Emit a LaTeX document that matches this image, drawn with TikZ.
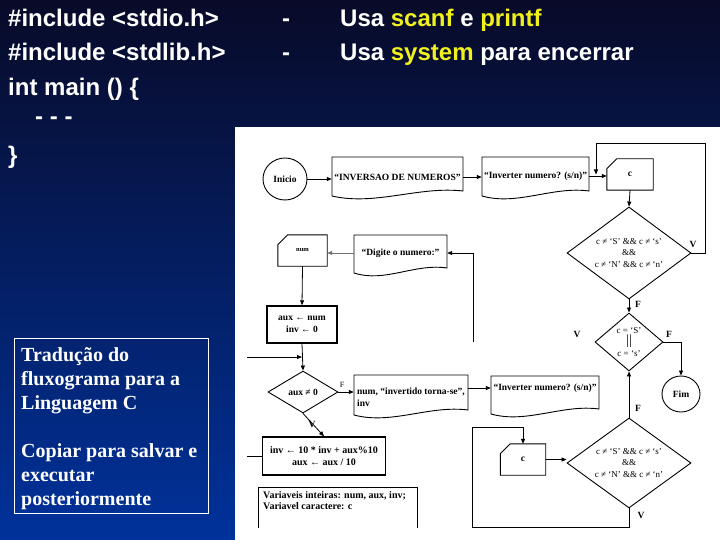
\documentclass[tikz,border=0pt]{standalone}
\usepackage{fontspec}
\setmainfont{Liberation Serif}
\newfontfamily\arialfont{Liberation Sans}
\usetikzlibrary{arrows.meta,calc,shapes.geometric}
\definecolor{yel}{RGB}{240,240,30}
\definecolor{bgtop}{RGB}{8,10,40}
\definecolor{bgbot}{RGB}{0,50,155}

\newcommand\docshape[4]{%
  \draw[shp] ($(#1)+(-#2,-#3)$) -- ($(#1)+(#2,-#3)$) -- ($(#1)+(#2,#4-5)$)
    .. controls ($(#1)+(0.32*#2,#4-10)$) and ($(#1)+(-0.34*#2,#4+10)$) .. ($(#1)+(-#2,#4)$) -- cycle;}
\newcommand\cardshape[1]{%
  \draw[shp] (#1.south west) -- ($(#1.north west)+(0,10)$) -- ($(#1.north west)+(10,0)$) -- (#1.north east) -- (#1.south east) -- cycle;}

\tikzset{
  shp/.style={draw=black, line width=0.9pt},
  arr/.style={draw=black, line width=0.8pt, -{Triangle[length=5pt,width=4pt]}},
  ln/.style={draw=black, line width=0.8pt},
  ftxt/.style={font=\bfseries\fontsize{9.5}{11.5}\selectfont, text=black, inner sep=0pt},
  docnode/.style={ftxt, align=center},
  cardnode/.style={ftxt, minimum height=31pt},
  proc/.style={draw, line width=1.4pt, ftxt, align=center},
  dia/.style={diamond, draw, line width=0.9pt, inner sep=0pt},
  dtxt/.style={font=\fontsize{9}{11.5}\selectfont, align=center, inner sep=0pt},
  term/.style={ellipse, draw, line width=0.9pt, ftxt},
  lbl/.style={font=\bfseries\fontsize{9.5}{10}\selectfont, inner sep=0pt},
  toptxt/.style={font=\arialfont\bfseries\fontsize{24}{29}\selectfont, text=white, anchor=base west, inner sep=0pt},
}

\begin{document}
\begin{tikzpicture}[x=1pt,y=-1pt]
\useasboundingbox (0,0) rectangle (720,540);
\shade[top color=bgtop, bottom color=bgbot] (0,0) rectangle (720,540);

% top code text
\node[toptxt] (t1) at (8,27) {\#include <stdio.h>};
\node[toptxt] (t1d) at (282,27) {-};
\node[toptxt] (t1r) at (340,27) {Usa \textcolor{yel}{scanf} e \textcolor{yel}{printf}};
\node[toptxt] (t2) at (8,61) {\#include <stdlib.h>};
\node[toptxt] (t2d) at (282,61) {-};
\node[toptxt] (t2r) at (340,61) {Usa \textcolor{yel}{system} para encerrar};
\node[toptxt] (t3) at (8,96) {int main () \{};
\node[toptxt] (t4) at (35,125) {- - -};
\node[toptxt] (t5) at (8,164) {\}};

% left text box
\node[draw=white, line width=0.8pt, minimum width=194pt, minimum height=175pt, inner sep=0pt, anchor=north west] (lbox) at (14,338) {};
\node[font=\bfseries\fontsize{20}{24}\selectfont, text=white, align=left, anchor=north west, inner sep=0pt] (ltxt) at (21,347.5)
  {Tradução do\\fluxograma para a\\Linguagem C\\[24pt]Copiar para salvar e\\executar\\posteriormente};

% white panel
\node[fill=white, inner sep=0pt, minimum width=485pt, minimum height=413pt, anchor=north west] (panel) at (235,127) {};

% terminals
\node[term, minimum width=44pt, minimum height=42pt] (ini) at (285,179) {Inicio};
\node[term, minimum width=38pt, minimum height=36pt] (fim) at (681,394) {Fim};

% documents
\node[docnode, minimum width=131pt] (doc1) at (397.5,177) {“INVERSAO DE NUMEROS”};
\docshape{doc1}{65.5}{20}{19}
\node[docnode, minimum width=107pt] (doc2) at (535.5,176) {“Inverter numero? (s/n)”};
\docshape{doc2}{53.5}{19}{20}
\node[docnode, minimum width=93pt] (dig) at (400.5,253) {“Digite o numero:”};
\docshape{dig}{46.5}{18}{20}
\node[docnode, align=left, minimum width=114pt] (doc3) at (411,397) {num, “invertido torna-se”,\\inv};
\docshape{doc3}{57}{22}{18}
\node[docnode, minimum width=108pt] (doc4) at (545,388) {“Inverter numero? (s/n)”};
\docshape{doc4}{54}{12}{26}

% manual inputs
\node[cardnode, minimum width=46pt] (c1) at (630,174.5) {c};
\cardshape{c1}
\node[cardnode, minimum width=49pt, font=\bfseries\fontsize{6.5}{8}\selectfont] (num) at (302.5,250.5) {num};
\cardshape{num}
\node[cardnode, minimum width=45pt] (c2) at (523,459.5) {c};
\cardshape{c2}

% process boxes
\node[proc, minimum width=70pt, minimum height=37pt] (aux) at (302,324.5) {aux ← num\\inv ← 0};
\node[proc, minimum width=123pt, minimum height=38pt, font=\bfseries\fontsize{10}{12}\selectfont] (inv) at (324,456) {inv ← 10 * inv + aux\%10\\aux ← aux / 10};

% decisions
\node[dia, minimum width=70pt, minimum height=42pt] (dA) at (303,392) {};
\node[ftxt] (dAt) at (dA) {aux ≠ 0};
\node[dia, minimum width=124pt, minimum height=92pt] (d1) at (629,253) {};
\node[dtxt] (d1t) at (d1) {c ≠ ‘S’ \&\& c ≠ ‘s’\\\&\&\\c ≠ ‘N’ \&\& c ≠ ‘n’};
\node[dia, minimum width=68pt, minimum height=58pt] (d2) at (629,342) {};
\node[dtxt, font=\fontsize{9}{11.5}\selectfont] (d2t) at (d2) {c = ‘S’\\{\fontsize{14}{11.5}\selectfont ||}\\c = ‘s’};
\node[dia, minimum width=124pt, minimum height=90pt] (d3) at (629,463) {};
\node[dtxt] (d3t) at (d3) {c ≠ ‘S’ \&\& c ≠ ‘s’\\\&\&\\c ≠ ‘N’ \&\& c ≠ ‘n’};

% variables box
\node[inner sep=0pt, minimum width=159pt, minimum height=41pt, anchor=north west] (var) at (258,487) {};
\draw[ln] (var.south west) -- (var.north west) -- (var.north east) -- (var.south east);
\node[ftxt, font=\bfseries\fontsize{10}{11}\selectfont, anchor=north west, align=left] (vart) at (263,491) {Variaveis inteiras: num, aux, inv;\\Variavel caractere: c};

% helper coordinates
\coordinate (j1) at (596,174.5);
\coordinate (j2) at (473,342);
\coordinate (j3) at (247,357);
\coordinate (j5) at (247,456);
\coordinate (j6) at (472,527);
\coordinate (j7) at (472,427);

% connectors
\draw[arr] (ini) -- (ini -| doc1.west);
\draw[arr] (doc1.east) -- (doc1.east -| doc2.west);
\draw[arr] (doc2.east) -- (doc2.east -| c1.west);
\draw[arr] (c1.south) -- (d1.north);
\draw[arr] (d1.east) -- (705,253) -- (705,143) -| (j1);
\draw[arr] (d1.south) -- (d2.north);
\draw[arr] (d2.east) -| (fim.north);
\draw[arr] (j2) |- (dig.east);
\draw[arr, draw=black!55] (dig.west) -- (dig.west -| num.east);
\draw[arr] (num.south) -- (aux.north);
\draw[arr] (aux.south) -- (dA.north);
\draw[arr] (j3) -- (aux.south |- j3);
\draw[ln] (inv.west) -- (j5);
\draw[arr] (dA.south) -- (inv.north);
\draw[arr] (dA.east) -- (dA.east -| doc3.west);
\draw[arr] (doc4.west -| doc3.east) -- (doc4.west);
\draw[arr] (d3.north) -- (d2.south);
\draw[arr] (d3.south) |- (j6) -- (j7) -| (c2.north);
\draw[arr] (c2.east) -- (c2.east -| d3.west);

% branch labels
\node[lbl] (l1) at (693,244) {V};
\node[lbl] (l2) at (638,304) {F};
\node[lbl] (l3) at (669,334) {F};
\node[lbl] (l4) at (577,334) {V};
\node[lbl, font=\fontsize{8}{9}\selectfont] (l5) at (342,385) {F};
\node[lbl] (l6) at (312,424) {V};
\node[lbl] (l7) at (638,408) {F};
\node[lbl] (l8) at (641,515) {V};
\end{tikzpicture}
\end{document}
